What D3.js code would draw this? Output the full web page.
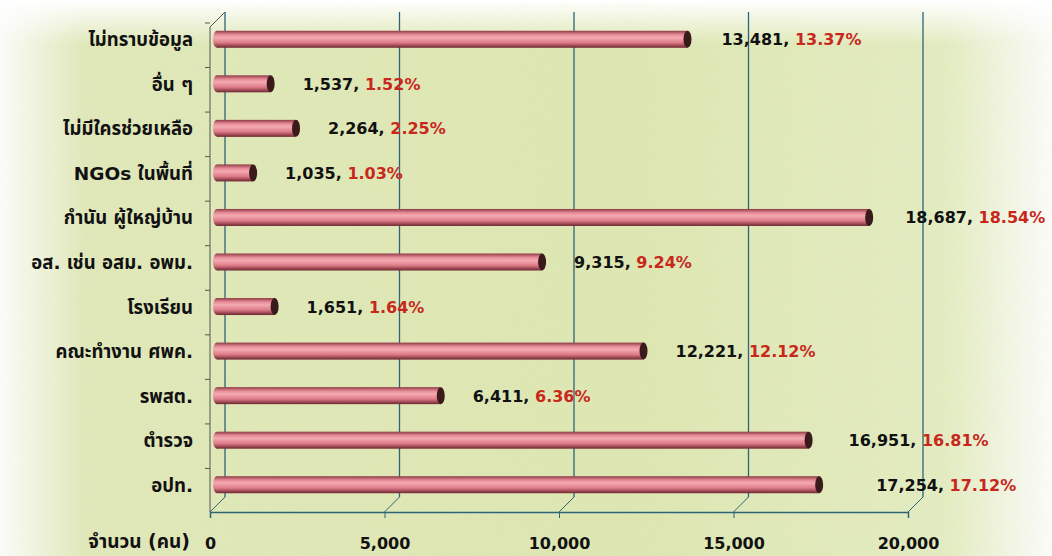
<!DOCTYPE html>
<html>
<head>
<meta charset="utf-8">
<script src="https://cdn.jsdelivr.net/npm/d3@7"></script>
<style>
  html, body { margin: 0; padding: 0; background: #fff; }
  svg text { font-family: "DejaVu Sans", Tahoma, "Noto Sans Thai", sans-serif; font-weight: bold; }
</style>
</head>
<body>
<script>
// categories top -> bottom
let categories = ['ไม่ทราบข้อมูล', 'อื่น ๆ', 'ไม่มีใครช่วยเหลือ', 'NGOs ในพื้นที่', 'กำนัน ผู้ใหญ่บ้าน',
  'อส. เช่น อสม. อพม.', 'โรงเรียน', 'คณะทำงาน ศพค.', 'รพสต.', 'ตำรวจ', 'อปท.'];
let counts = [13481, 1537, 2264, 1035, 18687, 9315, 1651, 12221, 6411, 16951, 17254];
let percents = ['13.37%', '1.52%', '2.25%', '1.03%', '18.54%', '9.24%', '1.64%', '12.12%', '6.36%', '16.81%', '17.12%'];
let ticks = [0, 5000, 10000, 15000, 20000];
let axisTitle = 'จำนวน (คน)';

let width = 1052, height = 556;
let depthX = 15, depthY = -15; // 3d offset of back wall

let svg = d3.select('body').append('svg')
  .attr('width', width).attr('height', height);

let defs = svg.append('defs');

// background: pale green with white fade at edges
let bgH = defs.append('linearGradient').attr('id', 'bgH');
bgH.append('stop').attr('offset', '0%').attr('stop-color', '#ffffff');
bgH.append('stop').attr('offset', '8%').attr('stop-color', '#e3eabc');
bgH.append('stop').attr('offset', '60%').attr('stop-color', '#e0e9b4');
bgH.append('stop').attr('offset', '90%').attr('stop-color', '#e6eec4');
bgH.append('stop').attr('offset', '100%').attr('stop-color', '#ffffff');

let bgV = defs.append('linearGradient').attr('id', 'bgV')
  .attr('x1', 0).attr('y1', 0).attr('x2', 0).attr('y2', 1);
bgV.append('stop').attr('offset', '0%').attr('stop-color', '#ffffff').attr('stop-opacity', 1);
bgV.append('stop').attr('offset', '8%').attr('stop-color', '#ffffff').attr('stop-opacity', 0);
bgV.append('stop').attr('offset', '100%').attr('stop-color', '#ffffff').attr('stop-opacity', 0);

let noise = defs.append('filter').attr('id', 'noise');
noise.append('feTurbulence').attr('type', 'fractalNoise').attr('baseFrequency', 0.9).attr('numOctaves', 2).attr('result', 't');
noise.append('feColorMatrix').attr('type', 'matrix')
  .attr('values', '0 0 0 0 0.45  0 0 0 0 0.55  0 0 0 0 0.3  0 0 0 0.25 0');

// cylinder shading
let cyl = defs.append('linearGradient').attr('id', 'cyl')
  .attr('x1', 0).attr('y1', 0).attr('x2', 0).attr('y2', 1);
cyl.append('stop').attr('offset', '0%').attr('stop-color', '#8e3a45');
cyl.append('stop').attr('offset', '22%').attr('stop-color', '#e58a95');
cyl.append('stop').attr('offset', '40%').attr('stop-color', '#f4aab2');
cyl.append('stop').attr('offset', '70%').attr('stop-color', '#dd7b87');
cyl.append('stop').attr('offset', '100%').attr('stop-color', '#6e2530');

svg.append('rect').attr('width', width).attr('height', height).attr('fill', 'url(#bgH)');
svg.append('rect').attr('x', 40).attr('y', 20).attr('width', 960).attr('height', 536)
  .attr('filter', 'url(#noise)').attr('opacity', 0.5);
svg.append('rect').attr('width', width).attr('height', height).attr('fill', 'url(#bgV)');

// scales
let x = d3.scaleLinear().domain([0, 20000]).range([210, 908]);
let y = d3.scaleBand().domain(categories).range([17, 507]);
let baseY = 512, topY = 27;
let axisColor = '#2f6478';

let grid = svg.append('g');
// back gridlines
grid.selectAll('line.v').data(ticks).join('line')
  .attr('x1', d => x(d) + depthX).attr('x2', d => x(d) + depthX)
  .attr('y1', topY + depthY).attr('y2', baseY + depthY)
  .attr('stroke', axisColor).attr('stroke-width', 1.3);
// floor connectors
grid.selectAll('line.d').data(ticks).join('line')
  .attr('x1', d => x(d)).attr('x2', d => x(d) + depthX)
  .attr('y1', baseY).attr('y2', baseY + depthY)
  .attr('stroke', axisColor).attr('stroke-width', 1);
// left wall
grid.append('line').attr('x1', x(0)).attr('x2', x(0)).attr('y1', topY).attr('y2', baseY)
  .attr('stroke', '#555').attr('stroke-width', 1);
grid.append('line').attr('x1', x(0)).attr('x2', x(0) + depthX).attr('y1', topY).attr('y2', topY + depthY)
  .attr('stroke', '#555').attr('stroke-width', 1);
// wall ticks between categories
grid.selectAll('line.t').data(d3.range(categories.length)).join('line')
  .attr('x1', x(0) - 5).attr('x2', x(0))
  .attr('y1', i => y(categories[i]) + 6).attr('y2', i => y(categories[i]) + 6)
  .attr('stroke', '#555');

// x axis at the front edge
let xAxis = svg.append('g').attr('transform', `translate(0,${baseY})`)
  .call(d3.axisBottom(x).tickValues(ticks).tickSize(6).tickFormat(d3.format(',')));
xAxis.select('.domain').attr('stroke', axisColor).attr('stroke-width', 1.5);
xAxis.selectAll('.tick line').attr('stroke', axisColor);
xAxis.selectAll('.tick text').attr('y', 26).attr('font-size', 16).attr('fill', '#111');

svg.append('text').attr('x', 190).attr('y', 548).attr('text-anchor', 'end')
  .attr('font-size', 19).attr('fill', '#111').text(axisTitle);

// category labels
svg.append('g').selectAll('text').data(categories).join('text')
  .attr('x', 193).attr('y', d => y(d) + y.bandwidth() / 2 + 7)
  .attr('text-anchor', 'end').attr('font-size', 18.5).attr('fill', '#111')
  .text(d => d);

// bars as cylinders
let barH = 17, cap = 4;
let bx = v => x(v) + 7;
let bars = svg.append('g').selectAll('g').data(categories).join('g')
  .attr('transform', d => `translate(0,${y(d) + y.bandwidth() / 2 - barH / 2})`);
bars.append('rect')
  .attr('x', bx(0)).attr('width', (d, i) => bx(counts[i]) - bx(0))
  .attr('height', barH).attr('fill', 'url(#cyl)');
bars.append('ellipse')
  .attr('cx', bx(0)).attr('cy', barH / 2).attr('rx', cap).attr('ry', barH / 2)
  .attr('fill', 'url(#cyl)');
bars.append('ellipse')
  .attr('cx', (d, i) => bx(counts[i])).attr('cy', barH / 2).attr('rx', cap).attr('ry', barH / 2)
  .attr('fill', '#3b1a1c');

// value labels
let labelNudge = [2, 0, 0, 0, 4, 0, 0, 0, 0, 8, 25];
let labels = svg.append('g').selectAll('text').data(categories).join('text')
  .attr('x', (d, i) => bx(counts[i]) + cap + 28 + labelNudge[i])
  .attr('y', d => y(d) + y.bandwidth() / 2 + 6)
  .attr('font-size', 16);
labels.append('tspan').attr('fill', '#111').text((d, i) => d3.format(',')(counts[i]) + ', ');
labels.append('tspan').attr('fill', '#c8281c').text((d, i) => percents[i]);
</script>
</body>
</html>
